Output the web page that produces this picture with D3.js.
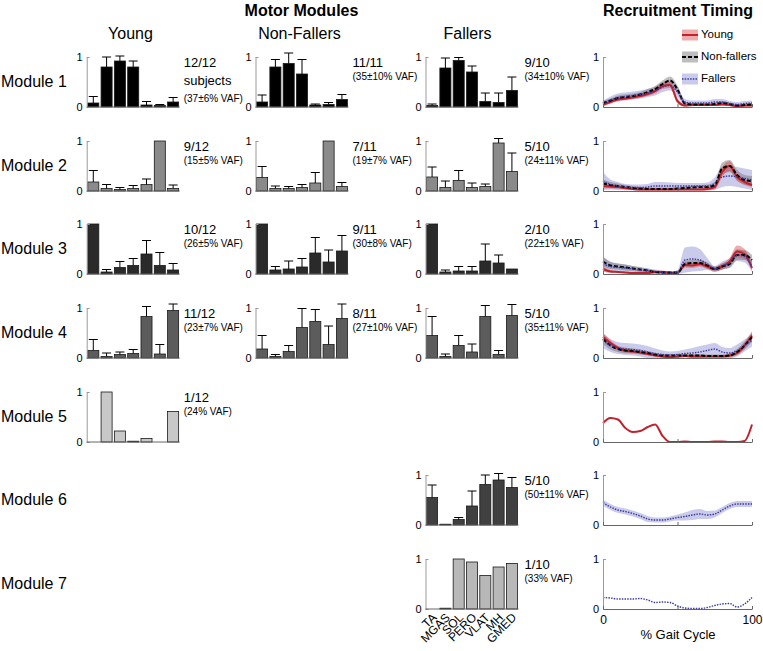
<!DOCTYPE html>
<html><head><meta charset="utf-8">
<script src="https://cdn.jsdelivr.net/npm/d3@7"></script>
<style>body{margin:0;background:#fff}svg{display:block}</style>
</head><body>
<script>
// ---------- DATA ----------
const muscles = ["TA","MGAS","SOL","PERO","VLAT","MH","GMED"];
const moduleNames = ["Module 1","Module 2","Module 3","Module 4","Module 5","Module 6","Module 7"];
const groupNames = ["Young","Non-Fallers","Fallers"];
const legendNames = ["Young","Non-fallers","Fallers"];

const youngMeans = [
  [0.08,0.80,0.92,0.80,0.04,0.03,0.10],
  [0.18,0.05,0.03,0.05,0.13,1.00,0.05],
  [1.00,0.04,0.13,0.17,0.40,0.17,0.08],
  [0.15,0.03,0.07,0.09,0.83,0.08,0.95],
  [0.00,1.00,0.22,0.01,0.07,0.00,0.61]
];
const youngSD = [
  [0.13,0.20,0.10,0.12,0.07,0.02,0.09],
  [0.23,0.08,0.04,0.06,0.11,0.00,0.07],
  [0.00,0.05,0.12,0.14,0.27,0.26,0.13],
  [0.22,0.07,0.05,0.08,0.20,0.19,0.13],
  [0,0,0,0,0,0,0]
];
const nfMeans = [
  [0.10,0.80,0.87,0.66,0.04,0.05,0.15],
  [0.27,0.05,0.05,0.07,0.16,1.00,0.09],
  [1.00,0.08,0.10,0.14,0.42,0.24,0.46],
  [0.18,0.03,0.13,0.61,0.73,0.27,0.79]
];
const nfSD = [
  [0.14,0.15,0.21,0.29,0.02,0.04,0.10],
  [0.22,0.05,0.04,0.06,0.21,0.00,0.08],
  [0.00,0.07,0.16,0.17,0.31,0.24,0.31],
  [0.27,0.04,0.12,0.38,0.24,0.37,0.29]
];
const fallersMeans = [
  [0.03,0.78,0.93,0.70,0.11,0.09,0.33],
  [0.28,0.07,0.21,0.07,0.09,0.96,0.39],
  [1.00,0.04,0.06,0.06,0.26,0.22,0.10],
  [0.45,0.03,0.25,0.12,0.83,0.07,0.85],
  null,
  [0.55,0.01,0.11,0.38,0.81,0.90,0.75],
  [0.00,0.01,1.00,0.94,0.67,0.84,0.91]
];
const fallersSD = [
  [0.03,0.20,0.06,0.12,0.17,0.19,0.27],
  [0.20,0.13,0.20,0.09,0.05,0.09,0.37],
  [0.00,0.04,0.09,0.09,0.34,0.16,0.00],
  [0.38,0.05,0.20,0.16,0.22,0.08,0.22],
  null,
  [0.25,0.00,0.04,0.30,0.19,0.13,0.20],
  [0,0,0,0,0,0,0]
];
const youngCounts = ["12/12","9/12","10/12","11/12","1/12"];
const youngVAF = ["(37±6% VAF)","(15±5% VAF)","(26±5% VAF)","(23±7% VAF)","(24% VAF)"];
const nfCounts = ["11/11","7/11","9/11","8/11"];
const nfVAF = ["(35±10% VAF)","(19±7% VAF)","(30±8% VAF)","(27±10% VAF)"];
const fallersCounts = ["9/10","5/10","2/10","5/10",null,"5/10","1/10"];
const fallersVAF = ["(34±10% VAF)","(24±11% VAF)","(22±1% VAF)","(35±11% VAF)",null,"(50±11% VAF)","(33% VAF)"];

const gaitPct = [0,5,10,15,20,25,30,35,40,45,50,55,60,65,70,75,80,85,90,95,100];
const youngTiming = [
  [.05,.10,.15,.17,.19,.22,.26,.32,.42,.44,.12,.03,.04,.04,.04,.04,.05,.04,.02,.03,.03],
  [.10,.09,.08,.06,.04,.03,.03,.03,.03,.03,.03,.03,.03,.03,.04,.08,.38,.50,.28,.18,.12],
  [.10,.05,.04,.03,.02,.02,.02,.04,.04,.02,.02,.18,.17,.20,.15,.10,.15,.25,.45,.40,.12],
  [.42,.30,.20,.15,.13,.11,.08,.05,.03,.02,.03,.04,.03,.03,.03,.03,.03,.05,.10,.25,.45],
  [.38,.48,.45,.28,.20,.22,.30,.35,.12,0,0,.01,0,0,0,.01,.01,0,0,.02,.35],
  null, null
];
const youngTimingSD = [
  [.03,.03,.03,.03,.03,.04,.04,.05,.06,.06,.05,.02,.02,.02,.02,.02,.02,.02,.02,.02,.02],
  [.05,.04,.03,.03,.02,.02,.02,.02,.02,.02,.02,.02,.02,.02,.03,.05,.10,.10,.08,.05,.05],
  [.05,.03,.02,.02,.02,.02,.02,.03,.03,.02,.02,.05,.05,.05,.05,.04,.06,.07,.12,.10,.06],
  [.08,.06,.04,.04,.04,.03,.03,.02,.02,.02,.02,.02,.02,.02,.02,.02,.02,.03,.04,.06,.08],
  null, null, null
];
const nfTiming = [
  [.08,.13,.18,.20,.22,.25,.30,.36,.46,.53,.35,.07,.05,.05,.05,.06,.08,.06,.03,.04,.05],
  [.15,.12,.10,.08,.06,.05,.04,.04,.04,.04,.05,.06,.07,.08,.08,.12,.45,.50,.32,.22,.20],
  [.25,.17,.15,.13,.11,.09,.07,.04,.03,.03,.03,.20,.22,.22,.17,.10,.15,.20,.38,.38,.28],
  [.38,.25,.18,.15,.14,.12,.10,.07,.05,.05,.05,.05,.05,.05,.04,.04,.04,.05,.12,.25,.42],
  null, null, null
];
const nfTimingSD = [
  [.04,.04,.05,.05,.05,.05,.06,.06,.07,.08,.08,.04,.03,.03,.03,.03,.04,.03,.03,.03,.03],
  [.08,.06,.05,.04,.04,.03,.03,.03,.03,.03,.03,.03,.04,.04,.05,.06,.12,.12,.10,.10,.10],
  [.10,.07,.06,.06,.05,.05,.04,.03,.03,.03,.03,.06,.06,.06,.06,.05,.06,.07,.10,.10,.10],
  [.10,.08,.06,.06,.05,.05,.04,.03,.03,.03,.03,.03,.03,.03,.03,.03,.03,.04,.06,.08,.10],
  null, null, null
];
const fallersTiming = [
  [.07,.14,.19,.21,.23,.25,.28,.32,.40,.43,.30,.10,.08,.08,.08,.10,.10,.07,.05,.07,.08],
  [.20,.13,.10,.08,.07,.07,.08,.10,.10,.10,.10,.10,.10,.10,.10,.15,.28,.30,.28,.25,.22],
  [.20,.15,.13,.12,.10,.08,.06,.05,.03,.02,.03,.28,.30,.28,.20,.10,.17,.22,.38,.35,.15],
  [.35,.25,.20,.18,.17,.15,.12,.09,.07,.06,.07,.09,.10,.12,.15,.18,.12,.10,.15,.25,.35],
  null,
  [.45,.36,.30,.27,.23,.18,.12,.10,.10,.12,.15,.17,.20,.22,.20,.22,.30,.38,.42,.42,.42],
  [.23,.22,.20,.20,.20,.21,.18,.13,.14,.13,.06,.02,.01,.01,.03,.07,.10,.11,.04,.10,.23]
];
const fallersTimingSD = [
  [.06,.07,.08,.08,.08,.08,.08,.09,.10,.10,.10,.06,.05,.05,.05,.06,.06,.05,.05,.05,.05],
  [.18,.10,.08,.06,.06,.06,.06,.08,.08,.07,.06,.06,.06,.06,.07,.12,.20,.20,.20,.20,.20],
  [.15,.10,.08,.07,.06,.05,.05,.04,.03,.03,.05,.25,.25,.22,.12,.06,.08,.10,.12,.12,.10],
  [.15,.13,.12,.12,.12,.12,.12,.10,.08,.07,.07,.08,.10,.12,.12,.12,.10,.10,.12,.12,.12],
  null,
  [.06,.06,.06,.06,.06,.06,.06,.05,.05,.05,.06,.08,.10,.10,.08,.07,.06,.06,.06,.06,.06],
  null
];

// ---------- LAYOUT / STYLE ----------
const FONT = "'Liberation Sans', Arial, sans-serif";
const rowTops = [57,141,224,308,392,475,559];
const H = 50;
const colX = [86.7, 255.5, 425.5];
const colW = 93;
const timeX0 = 603, timeW = 149;
const barColors = ["#000000","#8a8a8a","#2a2a2a","#5c5c5c","#c8c8c8","#404040","#b8b8b8"];
const lineStyle = {
  young: {stroke:"#c0232b", width:2, dash:null, band:"rgba(214,70,75,0.45)"},
  nf:    {stroke:"#000000", width:2, dash:"4,2", band:"rgba(110,110,110,0.45)"},
  f:     {stroke:"#3b3b9e", width:1.4, dash:"1.5,1.2", band:"rgba(150,150,215,0.5)"}
};

const svg = d3.select("body").append("svg").attr("width",763).attr("height",651)
  .style("font-family", FONT);
svg.append("rect").attr("width",763).attr("height",651).attr("fill","#fff");

function styleAxis(g, col){
  g.select(".domain").attr("stroke", col);
  g.selectAll(".tick line").attr("stroke", col);
  g.selectAll(".tick text").attr("fill","#000").style("font-size","11px").style("font-family",FONT);
}

function barPanel(x0, top, means, sds, color, showMuscles){
  const g = svg.append("g");
  const x = d3.scaleBand().domain(muscles).range([x0, x0+colW]).paddingInner(0.17).paddingOuter(0.08);
  const y = d3.scaleLinear().domain([0,1]).range([top+H, top]);
  const data = muscles.map((m,i)=>({m, v:means[i], s:sds?sds[i]:0}));
  g.selectAll("rect.bar").data(data.filter(d=>d.v>0)).join("rect")
    .attr("x", d=>x(d.m)).attr("width", x.bandwidth())
    .attr("y", d=>Math.min(y(d.v), y(0)-0.8)).attr("height", d=>Math.max(y(0)-y(d.v),0.8))
    .attr("fill", color).attr("stroke","#1a1a1a").attr("stroke-width",0.8);
  const eb = data.filter(d=>d.s>0);
  g.selectAll("line.eb").data(eb).join("line")
    .attr("x1", d=>x(d.m)+x.bandwidth()/2).attr("x2", d=>x(d.m)+x.bandwidth()/2)
    .attr("y1", d=>y(d.v)).attr("y2", d=>y(d.v+d.s)).attr("stroke","#000").attr("stroke-width",1);
  g.selectAll("line.cap").data(eb).join("line")
    .attr("x1", d=>x(d.m)+x.bandwidth()/2-4.5).attr("x2", d=>x(d.m)+x.bandwidth()/2+4.5)
    .attr("y1", d=>y(d.v+d.s)).attr("y2", d=>y(d.v+d.s)).attr("stroke","#000").attr("stroke-width",1);
  const ya = g.append("g").attr("transform",`translate(${x0},0)`)
    .call(d3.axisLeft(y).tickValues([0,1]).tickFormat(d3.format("d")).tickSize(-3).tickSizeOuter(0).tickPadding(4));
  styleAxis(ya, "#9a9a9a");
  g.append("line").attr("x1",x0).attr("x2",x0+colW).attr("y1",y(0)).attr("y2",y(0))
    .attr("stroke","#666").attr("stroke-width",1);
  if(showMuscles){
    g.selectAll("text.mus").data(muscles).join("text")
      .attr("transform", d=>`translate(${x(d)+x.bandwidth()/2+3},${y(0)+7}) rotate(-45)`)
      .attr("text-anchor","end").attr("dominant-baseline","middle")
      .style("font-size","12px").text(d=>d);
  }
}

function panelText(x, top, count, vaf, extra){
  if(!count) return;
  svg.append("text").attr("x",x).attr("y",top+7).attr("dominant-baseline","middle")
    .style("font-size","13px").text(count);
  if(extra){
    svg.append("text").attr("x",x).attr("y",top+25).attr("dominant-baseline","middle")
      .style("font-size","13px").text(extra);
    svg.append("text").attr("x",x).attr("y",top+42).attr("dominant-baseline","middle")
      .style("font-size","10px").text(vaf);
  } else {
    svg.append("text").attr("x",x).attr("y",top+20.5).attr("dominant-baseline","middle")
      .style("font-size","10px").text(vaf);
  }
}

const xt = d3.scaleLinear().domain([0,100]).range([timeX0, timeX0+timeW]);
function timingPanel(r){
  const top = rowTops[r];
  const y = d3.scaleLinear().domain([0,1]).range([top+H, top]);
  const g = svg.append("g");
  const series = [
    {m:fallersTiming[r], s:fallersTimingSD[r], st:lineStyle.f},
    {m:nfTiming[r], s:nfTimingSD[r], st:lineStyle.nf},
    {m:youngTiming[r], s:youngTimingSD[r], st:lineStyle.young}
  ];
  series.forEach(se=>{
    if(!se.m || !se.s) return;
    const pts = gaitPct.map((p,i)=>({p, lo:Math.max(0,se.m[i]-se.s[i]), hi:se.m[i]+se.s[i]}));
    g.append("path").datum(pts)
      .attr("d", d3.area().x(d=>xt(d.p)).y0(d=>y(d.lo)).y1(d=>y(d.hi)).curve(d3.curveMonotoneX))
      .attr("fill", se.st.band).attr("stroke","none");
  });
  [series[2], series[1], series[0]].forEach(se=>{
    if(!se.m) return;
    const pts = gaitPct.map((p,i)=>({p, v:se.m[i]}));
    g.append("path").datum(pts)
      .attr("d", d3.line().x(d=>xt(d.p)).y(d=>y(d.v)).curve(d3.curveMonotoneX))
      .attr("fill","none").attr("stroke",se.st.stroke).attr("stroke-width",se.st.width)
      .attr("stroke-dasharray", se.st.dash);
  });
  const ya = g.append("g").attr("transform",`translate(${timeX0},0)`)
    .call(d3.axisLeft(y).tickValues([0,1]).tickFormat(d3.format("d")).tickSize(-3).tickSizeOuter(0).tickPadding(4));
  styleAxis(ya, "#9a9a9a");
  const xa = g.append("g").attr("transform",`translate(0,${top+H})`)
    .call(d3.axisBottom(xt).tickValues([0,50,100]).tickSize(-3).tickSizeOuter(0).tickPadding(6)
      .tickFormat(d => (r===6 && d!==50) ? d : ""));
  styleAxis(xa, "#666");
  xa.selectAll(".tick text").style("font-size","12px");
}

// ---------- DRAW ----------
svg.append("text").attr("x",301.5).attr("y",16).attr("text-anchor","middle")
  .style("font-size","16px").style("font-weight","bold").text("Motor Modules");
svg.append("text").attr("x",678).attr("y",16).attr("text-anchor","middle")
  .style("font-size","16px").style("font-weight","bold").text("Recruitment Timing");
[130.5, 299.5, 467.5].forEach((cx,i)=>{
  svg.append("text").attr("x",cx).attr("y",39).attr("text-anchor","middle")
    .style("font-size","16px").text(groupNames[i]);
});
moduleNames.forEach((name,r)=>{
  svg.append("text").attr("x",1).attr("y",rowTops[r]+26).attr("dominant-baseline","middle")
    .style("font-size","16px").text(name);
});

youngMeans.forEach((m,r)=>{
  barPanel(colX[0], rowTops[r], m, youngSD[r], barColors[r], false);
  panelText(colX[0]+colW+4, rowTops[r], youngCounts[r], youngVAF[r], r===0 ? "subjects" : null);
});
nfMeans.forEach((m,r)=>{
  barPanel(colX[1], rowTops[r], m, nfSD[r], barColors[r], false);
  panelText(colX[1]+colW+4, rowTops[r], nfCounts[r], nfVAF[r], null);
});
fallersMeans.forEach((m,r)=>{
  if(!m) return;
  barPanel(colX[2], rowTops[r], m, fallersSD[r], barColors[r], r===6);
  panelText(colX[2]+colW+6, rowTops[r], fallersCounts[r], fallersVAF[r], null);
});
for(let r=0;r<7;r++) timingPanel(r);

svg.append("text").attr("x",678).attr("y",636).attr("text-anchor","middle").attr("dominant-baseline","middle")
  .style("font-size","13px").text("% Gait Cycle");

// legend
const legStyles = [lineStyle.young, lineStyle.nf, lineStyle.f];
const legYs = [35, 57, 79];
legendNames.forEach((name,i)=>{
  const cy = legYs[i];
  const st = legStyles[i];
  svg.append("rect").attr("x",682).attr("y",cy-5.5).attr("width",16).attr("height",11)
    .attr("fill", st.band);
  svg.append("line").attr("x1",682).attr("x2",698).attr("y1",cy).attr("y2",cy)
    .attr("stroke",st.stroke).attr("stroke-width",st.width).attr("stroke-dasharray",st.dash);
  svg.append("text").attr("x",701).attr("y",cy).attr("dominant-baseline","middle")
    .style("font-size","11.5px").text(name);
});
</script>
</body></html>
